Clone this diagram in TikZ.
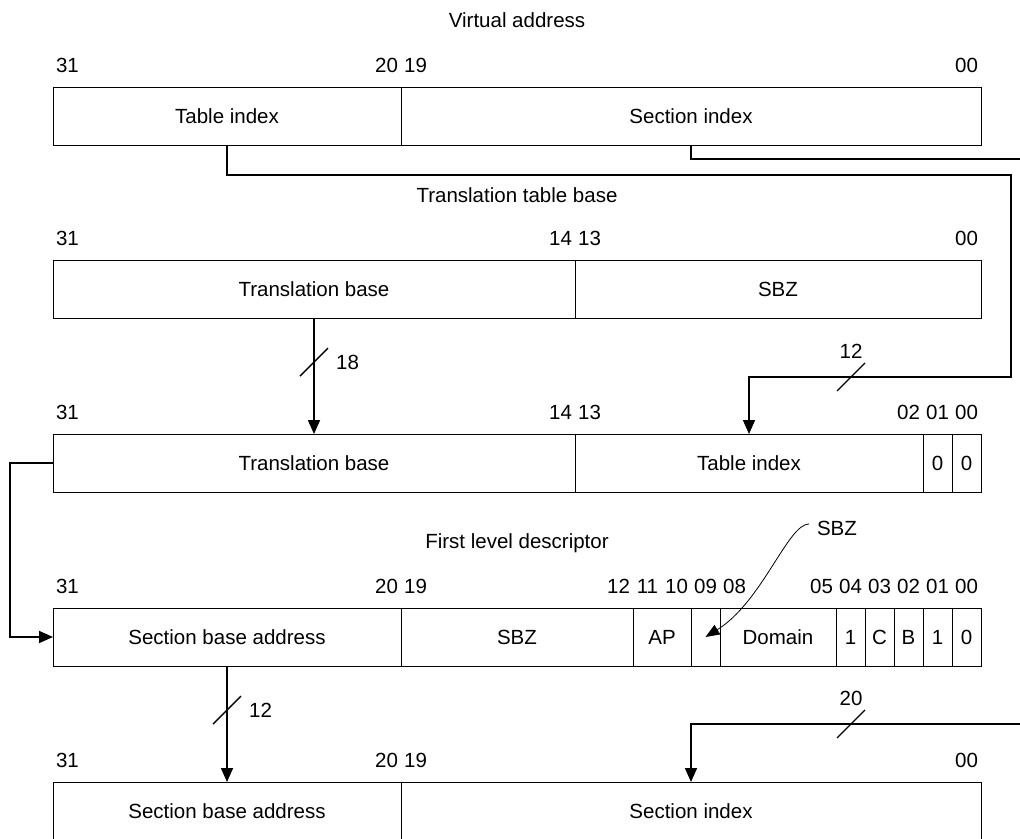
\documentclass[tikz,border=0pt]{standalone}
\usepackage{fontspec}
\setmainfont{Liberation Sans}
\usetikzlibrary{arrows.meta, positioning}

\begin{document}
\begin{tikzpicture}[
    x=1pt, y=-1pt,
    field/.style={rectangle, draw, line width=0.9pt, minimum height=58pt, inner sep=0pt, outer sep=0pt, font=\fontsize{20.5}{24}\selectfont},
    bits/.style={minimum width=#1*29pt},
    bitno/.style={inner sep=0pt, font=\fontsize{20.5}{24}\selectfont},
    bus/.style={line width=1.6pt},
    arrow/.style={bus, -{Triangle[length=14pt, width=12pt]}},
    tick/.style={line width=1.3pt}
]
    \path[use as bounding box, clip] (0,0) rectangle (1020,838);

    % virtual address
    \node[bitno] (t-va) at (517,20) {Virtual address};
    \node[field, bits=12, anchor=north west] (va-tbl) at (53,87) {Table index};
    \node[field, bits=20, right=0pt of va-tbl] (va-sec) {Section index};

    % translation table base
    \node[bitno] (t-ttb) at (517,195) {Translation table base};
    \node[field, bits=18, anchor=north west] (tb-base) at (53,260) {Translation base};
    \node[field, bits=14, right=0pt of tb-base] (tb-sbz) {SBZ};

    % descriptor address
    \node[field, bits=18, anchor=north west] (ptr-base) at (53,434) {Translation base};
    \node[field, bits=12, right=0pt of ptr-base] (ptr-idx) {Table index};
    \node[field, bits=1, right=0pt of ptr-idx] (ptr-b1) {0};
    \node[field, bits=1, right=0pt of ptr-b1] (ptr-b0) {0};

    % first level descriptor
    \node[bitno] (t-fld) at (517,543) {First level descriptor};
    \node[field, bits=12, anchor=north west] (fld-base) at (53,608) {Section base address};
    \node[field, bits=8, right=0pt of fld-base] (fld-sbz) {SBZ};
    \node[field, bits=2, right=0pt of fld-sbz] (fld-ap) {AP};
    \node[field, bits=1, right=0pt of fld-ap] (fld-res) {};
    \node[field, bits=4, right=0pt of fld-res] (fld-dom) {Domain};
    \node[field, bits=1, right=0pt of fld-dom] (fld-b4) {1};
    \node[field, bits=1, right=0pt of fld-b4] (fld-c) {C};
    \node[field, bits=1, right=0pt of fld-c] (fld-b) {B};
    \node[field, bits=1, right=0pt of fld-b] (fld-b1) {1};
    \node[field, bits=1, right=0pt of fld-b1] (fld-b0) {0};
    \node[bitno] (sbz-note) at (837,528) {SBZ};

    % physical address
    \node[field, bits=12, anchor=north west] (pa-base) at (53,782) {Section base address};
    \node[field, bits=20, right=0pt of pa-base] (pa-sec) {Section index};

    % bit numbers
    \foreach \p/\t in {31/31, 20/20, 19/19, 0/00}
        \node[bitno] (n1-\p) at ({966.5-29*\p},65) {\t};
    \foreach \p/\t in {31/31, 14/14, 13/13, 0/00}
        \node[bitno] (n2-\p) at ({966.5-29*\p},238) {\t};
    \foreach \p/\t in {31/31, 14/14, 13/13, 2/02, 1/01, 0/00}
        \node[bitno] (n3-\p) at ({966.5-29*\p},412) {\t};
    \foreach \p/\t in {31/31, 20/20, 19/19, 12/12, 11/11, 10/10, 9/09, 8/08, 5/05, 4/04, 3/03, 2/02, 1/01, 0/00}
        \node[bitno] (n4-\p) at ({966.5-29*\p},586) {\t};
    \foreach \p/\t in {31/31, 20/20, 19/19, 0/00}
        \node[bitno] (n5-\p) at ({966.5-29*\p},760) {\t};

    % connectors
    \coordinate (va-turn) at (1011,175);
    \coordinate (va-down) at (1011,377);
    \coordinate (w12a) at (851,377);
    \coordinate (off-top) at (1040,159);
    \coordinate (off-bot) at (1040,724);
    \coordinate (w20) at (851,724);

    \draw[arrow] (va-tbl.south) |- (va-turn) -- (va-down) -| (ptr-idx.north);
    \draw[bus] (va-sec.south) |- (off-top);
    \draw[arrow] (off-bot) -| (pa-sec.north);
    \draw[arrow] (tb-base.south) -- coordinate[pos=0.38] (w18) (ptr-base.north);
    \draw[arrow] (fld-base.south) -- coordinate[pos=0.38] (w12b) (pa-base.north);
    \draw[arrow] (ptr-base.west) -- ++(-43,0) |- (fld-base.west);
    \draw[line width=0.8pt, -{Triangle[length=14pt, width=11pt]}] ([xshift=-8pt, yshift=4pt]sbz-note.west)
        .. controls (788,524) and (762,602) .. (fld-res.center);

    % bus widths
    \foreach \w in {w18, w12a, w12b, w20}
        \draw[tick] (\w) +(-14,14) -- +(14,-14);
    \node[bitno, right=22pt of w18] (n18) {18};
    \node[bitno, right=22pt of w12b] (n12b) {12};
    \node[bitno, above=18pt of w12a] (n12a) {12};
    \node[bitno, above=18pt of w20] (n20) {20};
\end{tikzpicture}
\end{document}
